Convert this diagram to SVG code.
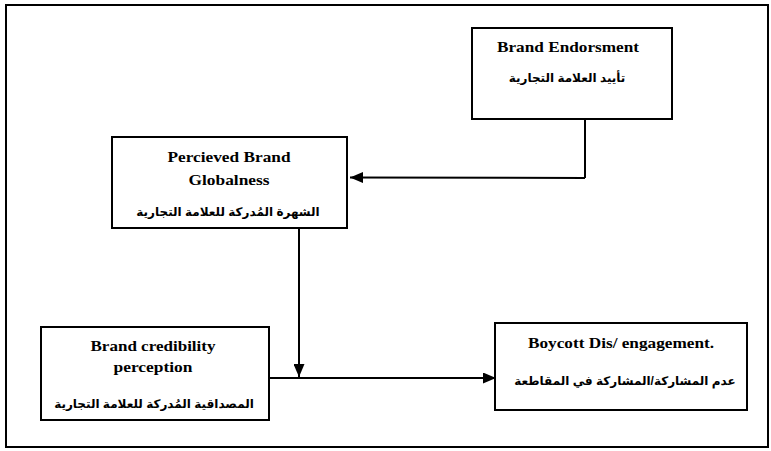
<svg xmlns="http://www.w3.org/2000/svg" width="771" height="451" viewBox="0 0 771 451">
<style>
.box{fill:#fff;stroke:#000;stroke-width:2}
.en{font-family:"Liberation Serif","Times New Roman",serif;font-weight:bold;font-size:15px;text-anchor:middle;fill:#000}
.ar{font-family:"Liberation Sans","DejaVu Sans",Arial,sans-serif;font-weight:bold;font-size:12px;text-anchor:middle;fill:#000}
.c{stroke:#000;stroke-width:2;fill:none}
</style>
<defs>
<marker id="ah" viewBox="0 0 13 11" refX="13" refY="5.5" markerWidth="13" markerHeight="11" markerUnits="userSpaceOnUse" orient="auto">
<path d="M0,0L13,5.5L0,11Z" fill="#000"/>
</marker>
</defs>
<rect x="0" y="0" width="771" height="451" fill="#fff"/>
<rect x="6" y="5" width="762" height="442" fill="none" stroke="#000" stroke-width="2"/>
<g id="connectors">
<path class="c" d="M585,119V178"/>
<path class="c" d="M585,178L350,177.5" marker-end="url(#ah)"/>
<path class="c" d="M299,228V377" marker-end="url(#ah)"/>
<path class="c" d="M269,378H496" marker-end="url(#ah)"/>
</g>
<g id="endorsement">
<rect class="box" x="472" y="28" width="200" height="91"/>
<text class="en" x="568" y="52" textLength="142" lengthAdjust="spacingAndGlyphs">Brand Endorsment</text>
<text class="ar" x="567" y="82" direction="rtl">تأييد العلامة التجارية</text>
</g>
<g id="globalness">
<rect class="box" x="112" y="137" width="235" height="91"/>
<text class="en" x="229" y="162" textLength="123" lengthAdjust="spacingAndGlyphs">Percieved Brand</text>
<text class="en" x="229" y="185" textLength="81" lengthAdjust="spacingAndGlyphs">Globalness</text>
<text class="ar" x="228" y="216" direction="rtl">الشهرة المُدركة للعلامة التجارية</text>
</g>
<g id="credibility">
<rect class="box" x="41" y="327" width="228" height="93"/>
<text class="en" x="153" y="351" textLength="125" lengthAdjust="spacingAndGlyphs">Brand credibility</text>
<text class="en" x="153" y="372" textLength="79" lengthAdjust="spacingAndGlyphs">perception</text>
<text class="ar" x="154" y="408" direction="rtl">المصداقية المُدركة للعلامة التجارية</text>
</g>
<g id="boycott">
<rect class="box" x="495" y="323" width="252" height="87"/>
<text class="en" x="621" y="348" textLength="186" lengthAdjust="spacingAndGlyphs">Boycott Dis/ engagement.</text>
<text class="ar" x="625" y="385" direction="rtl">عدم المشاركة/المشاركة في المقاطعة</text>
</g>
</svg>
